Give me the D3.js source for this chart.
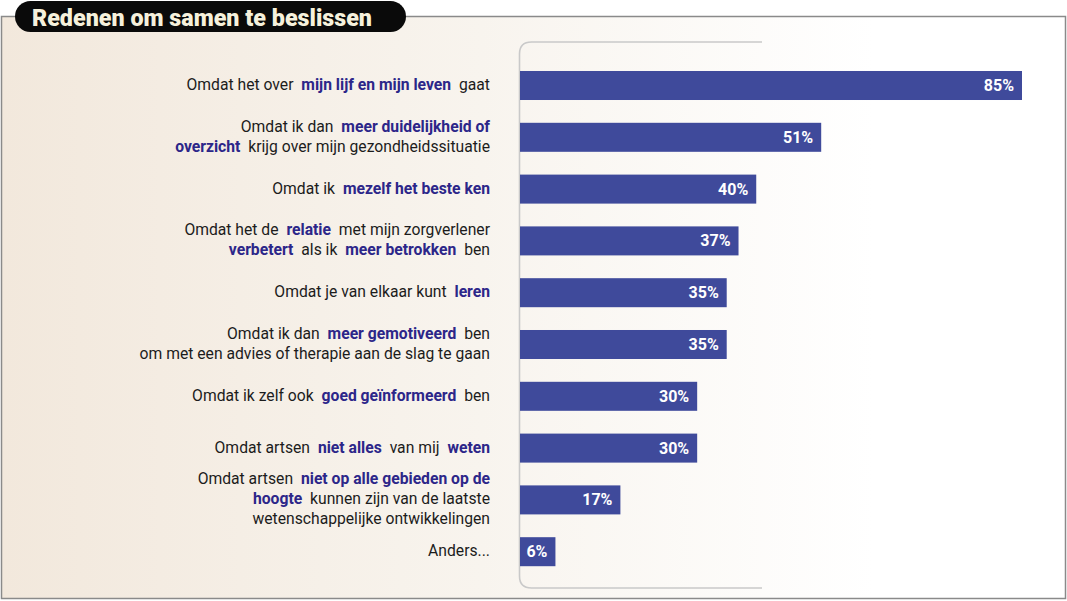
<!DOCTYPE html>
<html>
<head>
<meta charset="utf-8">
<script src="https://cdn.jsdelivr.net/npm/d3@7"></script>
<style>
  html, body { margin: 0; padding: 0; background: #ffffff; }
  svg { display: block; }
</style>
</head>
<body>
<svg id="chart" width="1067" height="601"></svg>
<script>
// ---- DATA ----
const title = "Redenen om samen te beslissen";
// labels: lines separated by "\n", highlighted parts between ** **
const categories = [
  "Omdat het over **mijn lijf en mijn leven** gaat",
  "Omdat ik dan **meer duidelijkheid of**\n**overzicht** krijg over mijn gezondheidssituatie",
  "Omdat ik **mezelf het beste ken**",
  "Omdat het de **relatie** met mijn zorgverlener\n**verbetert** als ik **meer betrokken** ben",
  "Omdat je van elkaar kunt **leren**",
  "Omdat ik dan **meer gemotiveerd** ben\nom met een advies of therapie aan de slag te gaan",
  "Omdat ik zelf ook **goed geïnformeerd** ben",
  "Omdat artsen **niet alles** van mij **weten**",
  "Omdat artsen **niet op alle gebieden op de**\n**hoogte** kunnen zijn van de laatste\nwetenschappelijke ontwikkelingen",
  "Anders..."
];
const values = [85, 51, 40, 37, 35, 35, 30, 30, 17, 6];
const valueSuffix = "%";

// ---- DRAW ----
(function () {
const svg = d3.select("#chart");

const defs = svg.append("defs");
const grad = defs.append("linearGradient").attr("id", "bg").attr("x1", "0").attr("x2", "1").attr("y1", "0").attr("y2", "0");
grad.append("stop").attr("offset", "0%").attr("stop-color", "#f2e8dc");
grad.append("stop").attr("offset", "45%").attr("stop-color", "#f8f4ee");
grad.append("stop").attr("offset", "82%").attr("stop-color", "#ffffff");
grad.append("stop").attr("offset", "100%").attr("stop-color", "#ffffff");

// frame
svg.append("rect")
  .attr("x", 1.5).attr("y", 16.5).attr("width", 1064).attr("height", 582)
  .attr("fill", "url(#bg)")
  .attr("stroke", "#8a8a8a").attr("stroke-width", 1.5);

// title pill
svg.append("rect")
  .attr("x", 15).attr("y", 1).attr("width", 391).attr("height", 31)
  .attr("rx", 15.5).attr("ry", 15.5)
  .attr("fill", "#0a0a0a");
svg.append("text")
  .attr("x", 32).attr("y", 25.5)
  .attr("font-family", "Roboto, 'DejaVu Sans', sans-serif")
  .attr("font-weight", 900)
  .attr("font-size", 24)
  .attr("fill", "#f6f1dc")
  .attr("textLength", 340)
  .attr("lengthAdjust", "spacingAndGlyphs")
  .text(title);

// scales
const x = d3.scaleLinear().domain([0, 85]).range([520, 1022]);
const y = d3.scaleBand()
  .domain(d3.range(categories.length))
  .range([59.6, 577.6])
  .paddingInner(0.44)
  .paddingOuter(0.22);

// bracket axis line
const bx = 519.5, bTop = 42, bBot = 588, r = 12, bEnd = 762;
svg.append("path")
  .attr("d", `M${bEnd},${bTop} H${bx + r} Q${bx},${bTop} ${bx},${bTop + r} V${bBot - r} Q${bx},${bBot} ${bx + r},${bBot} H${bEnd}`)
  .attr("fill", "none")
  .attr("stroke", "#c9c9c9")
  .attr("stroke-width", 1.6);

// bars
svg.append("g").selectAll("rect")
  .data(values)
  .join("rect")
  .attr("x", x(0))
  .attr("y", (d, i) => y(i))
  .attr("width", d => x(d) - x(0))
  .attr("height", y.bandwidth())
  .attr("fill", "#3f4a9b");

// value labels
svg.append("g").selectAll("text")
  .data(values)
  .join("text")
  .attr("x", d => x(d) - 8)
  .attr("y", (d, i) => y(i) + y.bandwidth() / 2 + 5.5)
  .attr("text-anchor", "end")
  .attr("font-family", "Roboto, 'DejaVu Sans', sans-serif")
  .attr("font-weight", 700)
  .attr("font-size", 16)
  .attr("fill", "#ffffff")
  .text(d => d + valueSuffix);

// category labels
const labelX = 490, lineH = 20, gap = 4;
const lg = svg.append("g")
  .attr("font-family", "Roboto, 'DejaVu Sans', sans-serif")
  .attr("font-size", 15.7);
categories.forEach((cat, i) => {
  const lines = cat.split("\n");
  const cy = y(i) + y.bandwidth() / 2;
  const y0 = cy - (lines.length - 1) * lineH / 2 + 4.5;
  lines.forEach((line, li) => {
    const t = lg.append("text")
      .attr("x", labelX)
      .attr("y", y0 + li * lineH)
      .attr("text-anchor", "end")
      .attr("fill", "#1c1c1c");
    const parts = line.split("**");
    let first = true;
    parts.forEach((p, pi) => {
      if (p === "") return;
      const bold = pi % 2 === 1;
      t.append("tspan")
        .attr("dx", first ? 0 : gap)
        .attr("font-weight", bold ? 700 : 400)
        .attr("fill", bold ? "#2c2689" : "#1c1c1c")
        .text(p);
      first = false;
    });
  });
});
})();
</script>
</body>
</html>
